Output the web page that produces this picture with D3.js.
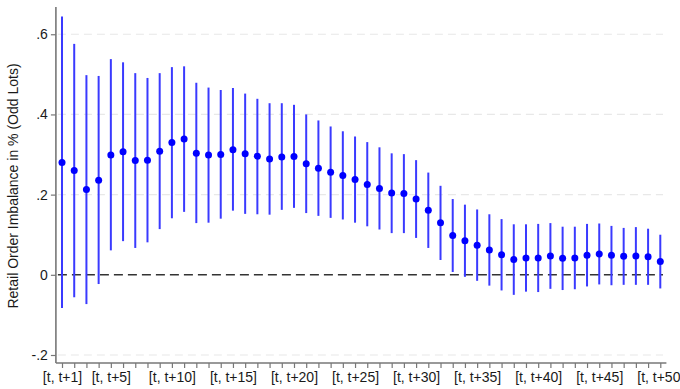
<!DOCTYPE html>
<html>
<head>
<meta charset="utf-8">
<script src="https://cdn.jsdelivr.net/npm/d3@7"></script>
<style>
  html, body { margin: 0; padding: 0; background: #fff; overflow: hidden; }
  svg { display: block; font-family: "Liberation Sans", Arial, Helvetica, sans-serif; }
</style>
</head>
<body>
<svg id="chart" width="680" height="389"></svg>
<script>
// Horizon index k for window [t, t+k]
const horizons = d3.range(1, 51);
// Point estimates
const estimate = [
  0.280, 0.260, 0.213, 0.236, 0.299, 0.307, 0.285, 0.286, 0.308, 0.330,
  0.339, 0.303, 0.299, 0.300, 0.312, 0.302, 0.296, 0.289, 0.294, 0.295,
  0.277, 0.266, 0.256, 0.248, 0.238, 0.225, 0.215, 0.204, 0.203, 0.189,
  0.161, 0.130, 0.098, 0.085, 0.074, 0.062, 0.050, 0.038, 0.042, 0.042,
  0.047, 0.041, 0.042, 0.049, 0.052, 0.049, 0.046, 0.047, 0.045, 0.033
];
// Upper confidence bounds
const upper = [
  0.644, 0.576, 0.498, 0.496, 0.538, 0.530, 0.503, 0.491, 0.503, 0.518,
  0.520, 0.479, 0.467, 0.461, 0.466, 0.452, 0.439, 0.428, 0.428, 0.424,
  0.400, 0.385, 0.370, 0.358, 0.345, 0.331, 0.318, 0.303, 0.301, 0.286,
  0.255, 0.222, 0.189, 0.175, 0.163, 0.151, 0.139, 0.126, 0.126, 0.127,
  0.129, 0.120, 0.120, 0.127, 0.128, 0.122, 0.117, 0.119, 0.115, 0.100
];
// Lower confidence bounds
const lower = [
  -0.083, -0.056, -0.073, -0.023, 0.061, 0.084, 0.067, 0.081, 0.114, 0.141,
  0.157, 0.129, 0.130, 0.140, 0.160, 0.152, 0.151, 0.150, 0.162, 0.167,
  0.154, 0.147, 0.142, 0.138, 0.130, 0.121, 0.113, 0.104, 0.104, 0.092,
  0.067, 0.037, 0.007, -0.005, -0.015, -0.027, -0.039, -0.050, -0.042, -0.043,
  -0.035, -0.038, -0.036, -0.029, -0.024, -0.026, -0.025, -0.025, -0.025, -0.034
];
const yTicks = [-0.2, 0, 0.2, 0.4, 0.6];
const yTickLabels = ["-.2", "0", ".2", ".4", ".6"];
const xLabelTicks = [1, 5, 10, 15, 20, 25, 30, 35, 40, 45, 50];
const xTickLabel = k => "[t, t+" + k + "]";
const yTitle = "Retail Order Imbalance in % (Odd Lots)";

const data = horizons.map((k, i) => ({k, est: estimate[i], lo: lower[i], hi: upper[i]}));

const svg = d3.select("#chart");
const x = d3.scaleLinear().domain([0.5, 50.5]).range([55.9, 666.4]);
const y = d3.scaleLinear().domain([-0.2, 0.6]).range([355, 34.25]);
const axisTop = 7, axisBottom = 363;

// gridlines (except zero)
svg.append("g").selectAll("line")
  .data(yTicks.filter(d => d !== 0))
  .join("line")
  .attr("x1", x(0.5) + 2).attr("x2", 663)
  .attr("y1", d => y(d)).attr("y2", d => y(d))
  .attr("stroke", "#e8e8e8").attr("stroke-width", 1.2)
  .attr("stroke-dasharray", "8,5");

// zero reference line
svg.append("line")
  .attr("x1", x(0.5) + 2).attr("x2", 663)
  .attr("y1", y(0)).attr("y2", y(0))
  .attr("stroke", "#333").attr("stroke-width", 1.6)
  .attr("stroke-dasharray", "9,5");

// Y axis
const yAxis = d3.axisLeft(y).tickValues(yTicks)
  .tickFormat((d, i) => yTickLabels[i]).tickSize(5).tickPadding(3);
const gy = svg.append("g").attr("transform", `translate(${x(0.5)},0)`).call(yAxis);
gy.select(".domain").remove();
gy.append("line").attr("x1", 0).attr("x2", 0).attr("y1", axisTop).attr("y2", axisBottom)
  .attr("stroke", "#777").attr("stroke-width", 1.6);
gy.selectAll(".tick line").attr("stroke", "#777").attr("stroke-width", 1.2);
gy.selectAll(".tick text").attr("font-size", 14).attr("fill", "#1a1a1a")
  .attr("font-family", '"Liberation Sans", Arial, sans-serif');

// X axis
const xAxis = d3.axisBottom(x).tickValues(horizons)
  .tickFormat(k => xLabelTicks.includes(k) ? xTickLabel(k) : "")
  .tickSize(5).tickPadding(4);
const gx = svg.append("g").attr("transform", `translate(0,${axisBottom})`).call(xAxis);
gx.select(".domain").remove();
gx.append("line").attr("x1", x(0.5)).attr("x2", x(50.5)).attr("y1", 0).attr("y2", 0)
  .attr("stroke", "#777").attr("stroke-width", 1.6);
gx.selectAll(".tick line").attr("stroke", "#777").attr("stroke-width", 1.2);
gx.selectAll(".tick text").attr("font-size", 14).attr("fill", "#1a1a1a")
  .attr("font-family", '"Liberation Sans", Arial, sans-serif');

// Y title
svg.append("text")
  .attr("transform", `translate(18,186) rotate(-90)`)
  .attr("text-anchor", "middle")
  .attr("font-size", 14).attr("fill", "#1a1a1a")
  .text(yTitle);

// error bars
svg.append("g").selectAll("line")
  .data(data).join("line")
  .attr("x1", d => x(d.k)).attr("x2", d => x(d.k))
  .attr("y1", d => y(d.lo)).attr("y2", d => y(d.hi))
  .attr("stroke", "#3a3aff").attr("stroke-width", 2);

// point estimates
svg.append("g").selectAll("circle")
  .data(data).join("circle")
  .attr("cx", d => x(d.k)).attr("cy", d => y(d.est))
  .attr("r", 3.5).attr("fill", "#0000ff");
</script>
</body>
</html>
